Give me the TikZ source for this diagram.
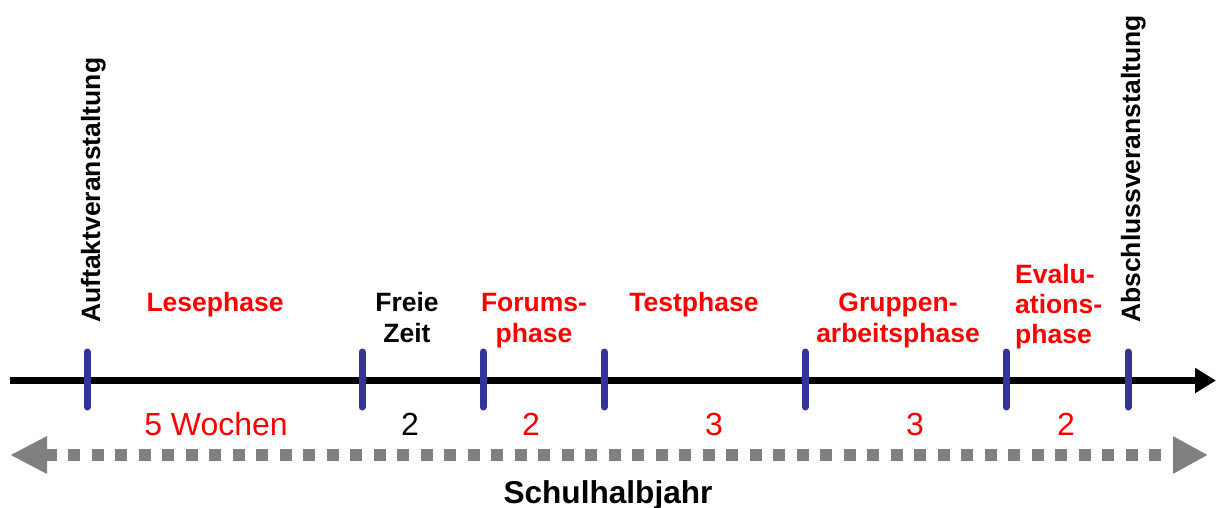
\documentclass[tikz,border=0pt]{standalone}
\usepackage{fontspec}
\setmainfont{Liberation Sans}
\usetikzlibrary{arrows.meta}
\definecolor{tickblue}{HTML}{333399}
\definecolor{phred}{HTML}{FF0000}
\definecolor{dotgray}{HTML}{808080}
\begin{document}
\begin{tikzpicture}[x=1pt,y=-1pt,
  lbl/.style={font=\fontsize{26.5}{31.5}\selectfont\bfseries, inner sep=0pt, anchor=base},
  rlbl/.style={lbl, phred},
  num/.style={font=\fontsize{32}{38}\selectfont, inner sep=0pt, anchor=base},
  rnum/.style={num, phred},
  vlbl/.style={lbl, rotate=90, anchor=base west},
  tickmark/.style={draw=tickblue, line width=7pt, line cap=round},
  axis/.style={draw=black, line width=7pt, -{Triangle[length=21pt,width=24pt]}},
  span/.style={draw=dotgray, line width=12pt, dash pattern=on 12pt off 11.5pt,
    {Triangle[length=37pt,width=35pt,fill=dotgray]}-{Triangle[length=35pt,width=35pt,fill=dotgray]}}
  ]
\useasboundingbox (0,0) rectangle (1216,507);

% main time axis
\coordinate (axL) at (10,380.5);
\coordinate (axR) at (1216,380.5);
\draw[axis] (axL) -- (axR);

% tick marks
\foreach \n/\x in {t1/87,t2/362,t3/483,t4/604,t5/805,t6/1006,t7/1128}{
  \coordinate (\n a) at (\x,352);
  \coordinate (\n b) at (\x,407);
  \draw[tickmark] (\n a) -- (\n b);
}

% dotted span arrow
\coordinate (spL) at (10,455);
\coordinate (spR) at (1208,455);
\draw[span] (spL) -- (spR);

% vertical labels
\node[vlbl] (auftakt) at (100,323) {Auftaktveranstaltung};
\node[vlbl] (abschluss) at (1140,323) {Abschlussveranstaltung};

% phase labels
\node[rlbl] (lese) at (215,311) {Lesephase};
\node[lbl] (freie1) at (407,311) {Freie};
\node[lbl] (freie2) at (407,342) {Zeit};
\node[rlbl] (forum1) at (534,311) {Forums-};
\node[rlbl] (forum2) at (534,342) {phase};
\node[rlbl] (test) at (694,311) {Testphase};
\node[rlbl] (grup1) at (898,311) {Gruppen-};
\node[rlbl] (grup2) at (898,342) {arbeitsphase};
\node[rlbl, anchor=base west] (eval1) at (1015,283) {Evalu-};
\node[rlbl, anchor=base west] (eval2) at (1015,313) {ations-};
\node[rlbl, anchor=base west] (eval3) at (1015,343) {phase};

% durations
\node[rnum] (d1) at (216,435) {5 Wochen};
\node[num] (d2) at (410,435) {2};
\node[rnum] (d3) at (531,435) {2};
\node[rnum] (d4) at (714,435) {3};
\node[rnum] (d5) at (915,435) {3};
\node[rnum] (d6) at (1066,435) {2};

% bottom caption
\node[font=\fontsize{31.6}{38}\selectfont\bfseries, inner sep=0pt, anchor=base] (schul) at (608,503) {Schulhalbjahr};
\end{tikzpicture}
\end{document}
